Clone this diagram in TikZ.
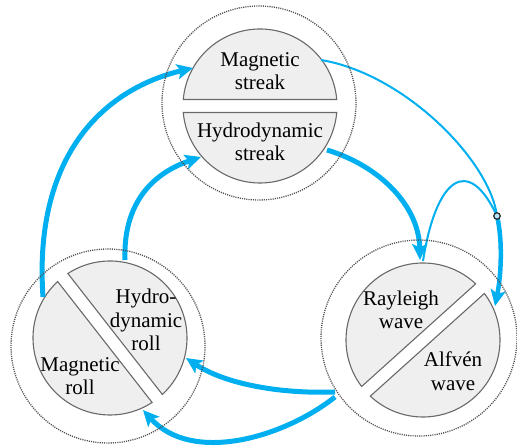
\documentclass[tikz,border=0pt]{standalone}
\usepackage{fontspec}
\setmainfont{Liberation Serif}
\usetikzlibrary{arrows.meta,calc}
\definecolor{flow}{RGB}{0,175,240}
\definecolor{piecefill}{RGB}{239,239,239}
\definecolor{pieceline}{RGB}{105,105,105}
\definecolor{dotline}{RGB}{80,80,80}
\newcommand{\halfdisk}[2]{%
  \filldraw[piece] ($(#1)+({#2+4.84}:77)$) arc[start angle={#2+4.84}, end angle={#2+175.16}, radius=77] -- cycle;}
\begin{document}
\begin{tikzpicture}[x=1pt,y=1pt,
  piece/.style={fill=piecefill, draw=pieceline, line width=1.1pt},
  label/.style={align=center, font=\fontsize{21}{23.5}\selectfont, inner sep=0pt},
  ring/.style={draw=dotline, line width=1.3pt, dash pattern=on 1.1pt off 1.1pt},
  thickflow/.style={draw=flow, line width=5pt, -{Stealth[length=16pt,width=15pt,inset=3.5pt]}},
  thinflow/.style={draw=flow, line width=2pt},
  ]
\useasboundingbox (0,0) rectangle (517,446);
% centres
\coordinate (T) at (260,340);
\coordinate (L) at (110,108);
\coordinate (R) at (423,106);
% pieces
\halfdisk{T}{0}
\halfdisk{T}{180}
\halfdisk{L}{-52}
\halfdisk{L}{128}
\halfdisk{R}{42}
\halfdisk{R}{222}
% labels
\node[label] (magstreak) at (260,375) {Magnetic\\streak};
\node[label] (hydstreak) at (260,304) {Hydrodynamic\\streak};
\node[label] (hydroll) at (146,126) {Hydro-\\dynamic\\roll};
\node[label] (magroll) at (80,70) {Magnetic\\roll};
\node[label] (rayleigh) at (401,136) {Rayleigh\\wave};
\node[label] (alfven) at (453,75) {Alfv\'en\\wave};
% connector end points
\coordinate (a1s) at (43,149);  \coordinate (a1e) at (193,378);
\coordinate (a2s) at (125,186); \coordinate (a2e) at (201,289);
\coordinate (a3s) at (327,296); \coordinate (a3e) at (420,186);
\coordinate (a4s) at (321,386); \coordinate (jc) at (497,230); \coordinate (a4e) at (495,140);
\coordinate (a5s) at (423,185);
\coordinate (a6s) at (335,54);  \coordinate (a6e) at (186,88);
\coordinate (a7s) at (335,49);  \coordinate (a7e) at (143,36);
% connectors
\draw[thickflow] (a1s) .. controls (33,295) and (108,358) .. (a1e);
\draw[thickflow] (a2s) .. controls (123,240) and (150,272) .. (a2e);
\draw[thickflow] (a3s) .. controls (380,280) and (419,240) .. (a3e);
\draw[thinflow] (a4s) .. controls (405,372) and (490,285) .. (jc);
\draw[thinflow] (a5s) .. controls (436,268) and (468,292) .. (jc);
\draw[thickflow, line width=4.5pt] (jc) .. controls (503,205) and (501,170) .. (a4e);
\draw[thickflow] (a6s) .. controls (280,52) and (225,62) .. (a6e);
\draw[thickflow] (a7s) .. controls (283,8) and (192,-18) .. (a7e);
\node[circle, draw=black!85, fill=flow!30, line width=1.2pt, inner sep=0pt, minimum size=6.5pt] (j) at (jc) {};
% dotted rings
\draw[ring] (259,343) circle[radius=97];
\draw[ring] (108,100) circle[radius=97];
\draw[ring] (419,108) circle[radius=98];
\end{tikzpicture}
\end{document}
